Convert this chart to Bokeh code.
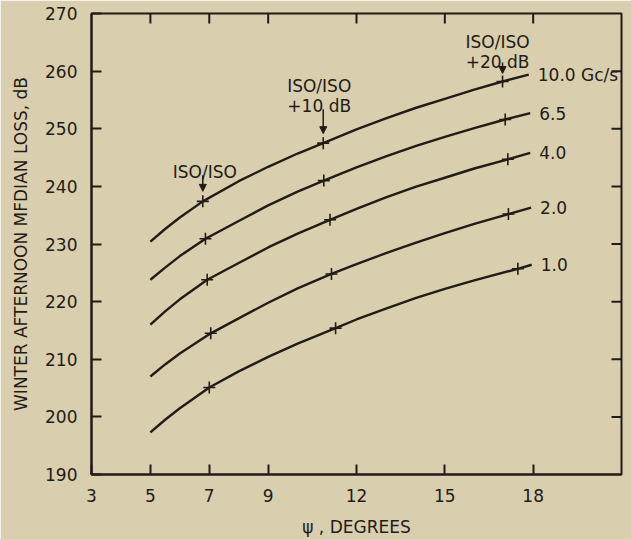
from bokeh.plotting import figure
from bokeh.models import Range1d, FixedTicker, Arrow, NormalHead
from bokeh.core.properties import value
from bokeh.embed import file_html
from bokeh.resources import INLINE

# Elevation angle psi (degrees) and winter afternoon median loss (dB) per frequency
freq_labels = ["10.0 Gc/s", "6.5", "4.0", "2.0", "1.0"]

psi_100 = [5, 5.5, 6, 6.78, 8, 9, 10, 10.87, 12, 13, 14, 15, 16, 16.96, 17.85]
loss_100 = [230.4, 232.6, 234.6, 237.4, 240.9, 243.4, 245.7, 247.5, 249.9,
            251.8, 253.6, 255.2, 256.8, 258.2, 259.4]

psi_65 = [5, 5.5, 6, 6.87, 8, 9, 10, 10.89, 12, 13, 14, 15, 16, 17.05, 17.9]
loss_65 = [223.8, 225.9, 227.9, 230.9, 234.0, 236.7, 239.1, 241.0, 243.3,
           245.2, 247.0, 248.6, 250.1, 251.6, 252.7]

psi_40 = [5, 5.5, 6, 6.93, 8, 9, 10, 11.1, 12, 13, 14, 15, 16, 17.14, 17.9]
loss_40 = [216.0, 218.3, 220.4, 223.8, 226.7, 229.4, 231.8, 234.2, 236.1,
           238.1, 239.9, 241.5, 243.1, 244.7, 245.8]

psi_20 = [5, 5.5, 6, 7.05, 8, 9, 10, 11.15, 12, 13, 14, 15, 16, 17.16, 17.93]
loss_20 = [207.0, 209.1, 211.0, 214.5, 217.1, 219.8, 222.3, 224.8, 226.5,
           228.4, 230.2, 231.9, 233.5, 235.2, 236.3]

psi_10 = [5, 5.5, 6, 7.0, 8, 9, 10, 11.29, 12, 13, 14, 15, 16, 17.48, 17.95]
loss_10 = [197.3, 199.5, 201.5, 205.1, 207.9, 210.4, 212.7, 215.4, 216.9,
           218.8, 220.6, 222.2, 223.7, 225.7, 226.4]

# points on each curve marked with a cross: ISO/ISO, +10 dB, +20 dB
mark_idx = [3, 7, 13]
mark_notes = [["ISO/ISO"], ["ISO/ISO", "+10 dB"], ["ISO/ISO", "+20 dB"]]

x_ticks = [3, 5, 7, 9, 12, 15, 18]
y_ticks = [190, 200, 210, 220, 230, 240, 250, 260, 270]

series = [
    (psi_100, loss_100),
    (psi_65, loss_65),
    (psi_40, loss_40),
    (psi_20, loss_20),
    (psi_10, loss_10),
]

BG = "#d9cfae"
INK = "#231b16"
FONT = "DejaVu Sans"

X0, X1, Y0, Y1 = 3, 21, 190, 270
W, H = 631, 539
LEFT, RIGHT, TOP, BOTTOM = 91, 10, 13, 65
px_per_db = (H - TOP - BOTTOM) / (Y1 - Y0)
px_per_deg = (W - LEFT - RIGHT) / (X1 - X0)
TICK = 10

p = figure(
    width=W, height=H,
    x_range=Range1d(X0, X1), y_range=Range1d(Y0, Y1),
    output_backend="svg", toolbar_location=None,
    min_border_left=LEFT, min_border_right=RIGHT,
    min_border_top=TOP, min_border_bottom=BOTTOM,
    x_axis_label="\u03c8 , DEGREES",
    y_axis_label="WINTER AFTERNOON MFDIAN LOSS, dB",
)
p.background_fill_color = BG
p.border_fill_color = BG
p.outline_line_color = INK
p.outline_line_width = 2
p.xgrid.visible = False
p.ygrid.visible = False

for ax in (p.xaxis[0], p.yaxis[0]):
    ax.axis_line_color = INK
    ax.axis_line_width = 2
    ax.major_tick_line_color = INK
    ax.major_tick_line_width = 2
    ax.major_tick_in = TICK
    ax.major_tick_out = 0
    ax.minor_tick_line_color = None
    ax.major_label_text_font = FONT
    ax.major_label_text_font_size = "17px"
    ax.major_label_text_color = INK
    ax.major_label_standoff = 14
    ax.axis_label_text_font = FONT
    ax.axis_label_text_font_style = "normal"
    ax.axis_label_text_color = INK
    ax.axis_label_text_font_size = "17px"

p.xaxis.ticker = FixedTicker(ticks=x_ticks)
p.yaxis.ticker = FixedTicker(ticks=y_ticks)
p.xaxis.axis_label_standoff = 12
p.yaxis.axis_label_standoff = 11

# inward ticks along the top and right edges of the frame
top_x = x_ticks[1:]
p.segment(x0=top_x, y0=[Y1] * len(top_x), x1=top_x,
          y1=[Y1 - TICK / px_per_db] * len(top_x),
          line_color=INK, line_width=2)
right_y = y_ticks[1:-1]
p.segment(x0=[X1] * len(right_y), y0=right_y,
          x1=[X1 - TICK / px_per_deg] * len(right_y), y1=right_y,
          line_color=INK, line_width=2)

# curves, cross marks and frequency labels
for (xs, ys), lab in zip(series, freq_labels):
    p.line(xs, ys, line_color=INK, line_width=2.4, line_join="round")
    mx = [xs[i] for i in mark_idx]
    my = [ys[i] for i in mark_idx]
    p.scatter(mx, my, marker="cross", size=12, line_color=INK, line_width=1.6)
    p.text([xs[-1]], [ys[-1]], text=[lab], x_offset=9,
           text_font=value(FONT), text_font_size="17px", text_color=INK,
           text_align="left", text_baseline="middle")

# notes with arrows over the marks of the top curve
cx_top, cy_top = series[0]
gap_px = [29, 37.5, 19]      # from mark up to note baseline
tail_px = [26, 34, 19]       # arrow tail above the mark
tip_px = [10, 9.5, 8]        # arrow tip above the mark
dx_px = [2, -4, -5]          # note centre shift
line_px = 20
for k, i in enumerate(mark_idx):
    cx, cy = cx_top[i], cy_top[i]
    for j, txt in enumerate(reversed(mark_notes[k])):
        p.text([cx + dx_px[k] / px_per_deg],
               [cy + (gap_px[k] + j * line_px) / px_per_db],
               text=[txt], text_font=value(FONT), text_font_size="17px",
               text_color=INK, text_align="center", text_baseline="alphabetic")
    p.add_layout(Arrow(
        x_start=cx, y_start=cy + tail_px[k] / px_per_db,
        x_end=cx, y_end=cy + tip_px[k] / px_per_db,
        line_color=INK, line_width=1.5,
        end=NormalHead(size=7, fill_color=INK, line_color=INK),
    ))

open("out.html", "w").write(file_html(p, INLINE))
